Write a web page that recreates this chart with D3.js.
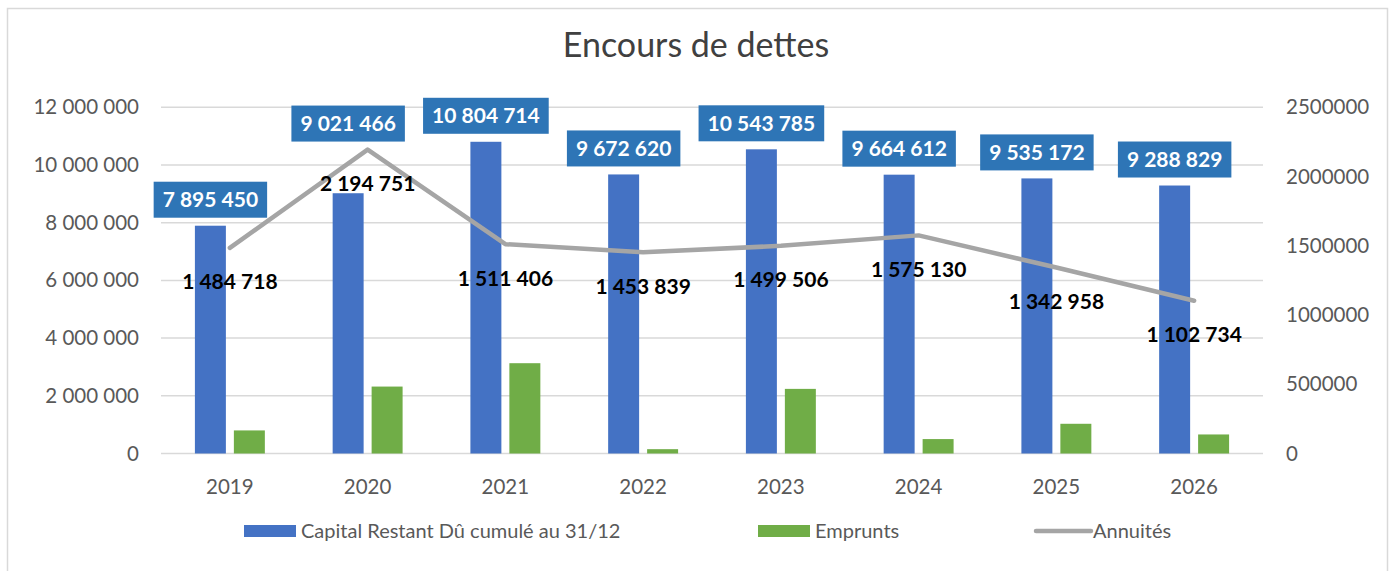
<!DOCTYPE html>
<html>
<head>
<meta charset="utf-8">
<script src="https://cdn.jsdelivr.net/npm/d3@7"></script>
<style>
  html, body { margin: 0; padding: 0; background: #fff; }
  svg { display: block; font-family: Lato, "Open Sans", sans-serif; }
</style>
</head>
<body>
<svg id="chart" width="1392" height="571"></svg>
<script>
// ---- data ----
const years = ["2019", "2020", "2021", "2022", "2023", "2024", "2025", "2026"];
const capital = [7895450, 9021466, 10804714, 9672620, 10543785, 9664612, 9535172, 9288829];
const emprunts = [800000, 2320000, 3130000, 150000, 2240000, 500000, 1030000, 660000];
const annuites = [1484718, 2194751, 1511406, 1453839, 1499506, 1575130, 1342958, 1102734];
const leftTicks = [0, 2000000, 4000000, 6000000, 8000000, 10000000, 12000000];
const rightTicks = [0, 500000, 1000000, 1500000, 2000000, 2500000];
const seriesNames = ["Capital Restant Dû cumulé au 31/12", "Emprunts", "Annuités"];
const title = "Encours de dettes";

// ---- layout ----
const W = 1392, H = 571;
const plot = { left: 161, right: 1263, top: 107.3, bottom: 453.5 };
const colBlue = "#4472C4", colGreen = "#70AD47", colGray = "#A5A5A5", colLabel = "#2E75B6";
const textCol = "#595959", gridCol = "#D9D9D9";

const svg = d3.select("#chart");

// chart border
svg.append("rect").attr("x", 7.5).attr("y", 8.5).attr("width", 1380).attr("height", 600)
  .attr("fill", "#fff").attr("stroke", gridCol).attr("stroke-width", 1.5);

// title
svg.append("text").attr("x", W / 2).attr("y", 57).attr("text-anchor", "middle")
  .attr("font-size", 34).attr("fill", "#404040").text(title);

// scales
const x = d3.scaleBand().domain(years).range([plot.left, plot.right]).padding(0);
const xs = d3.scaleBand().domain(["cap", "emp"]).range([0, x.bandwidth()])
  .paddingInner(0.205).paddingOuter(0.87);
const yL = d3.scaleLinear().domain([0, 12000000]).range([plot.bottom, plot.top]);
const yR = d3.scaleLinear().domain([0, 2500000]).range([plot.bottom, plot.top]);

const fmtSpace = v => d3.format(",")(v).replace(/,/g, " ");

// gridlines
svg.append("g").selectAll("line").data(leftTicks).join("line")
  .attr("x1", plot.left).attr("x2", plot.right)
  .attr("y1", d => yL(d)).attr("y2", d => yL(d))
  .attr("stroke", gridCol).attr("stroke-width", 1.5);

// left axis
const axL = svg.append("g").attr("transform", `translate(${plot.left - 22},0)`)
  .call(d3.axisLeft(yL).tickValues(leftTicks).tickFormat(fmtSpace).tickSize(0).tickPadding(0));
axL.select(".domain").remove();
axL.selectAll("text").attr("font-size", 20.5).attr("fill", textCol).attr("font-family", "Lato");

// right axis
const axR = svg.append("g").attr("transform", `translate(${plot.right + 23},0)`)
  .call(d3.axisRight(yR).tickValues(rightTicks).tickFormat(d3.format("d")).tickSize(0).tickPadding(0));
axR.select(".domain").remove();
axR.selectAll("text").attr("font-size", 20.5).attr("fill", textCol).attr("font-family", "Lato");

// x axis labels
const axB = svg.append("g").attr("transform", `translate(0,${plot.bottom + 33})`)
  .call(d3.axisBottom(x).tickSize(0).tickPadding(0));
axB.select(".domain").remove();
axB.selectAll("text").attr("font-size", 20.5).attr("fill", textCol).attr("font-family", "Lato")
  .attr("dy", "0.35em");

// bars
const rows = years.map((yr, i) => ({ yr, cap: capital[i], emp: emprunts[i], ann: annuites[i] }));
svg.append("g").selectAll("rect").data(rows).join("rect")
  .attr("x", d => x(d.yr) + xs("cap")).attr("width", xs.bandwidth())
  .attr("y", d => yL(d.cap)).attr("height", d => yL(0) - yL(d.cap))
  .attr("fill", colBlue);
svg.append("g").selectAll("rect").data(rows).join("rect")
  .attr("x", d => x(d.yr) + xs("emp")).attr("width", xs.bandwidth())
  .attr("y", d => yL(d.emp)).attr("height", d => yL(0) - yL(d.emp))
  .attr("fill", colGreen);

// line
const cx = d => x(d.yr) + x.bandwidth() / 2;
svg.append("path").datum(rows)
  .attr("d", d3.line().x(cx).y(d => yR(d.ann)))
  .attr("fill", "none").attr("stroke", colGray).attr("stroke-width", 4.5)
  .attr("stroke-linejoin", "round").attr("stroke-linecap", "round");

// line labels (below points)
svg.append("g").selectAll("text").data(rows).join("text")
  .attr("x", cx).attr("y", d => yR(d.ann) + 34).attr("dy", "0.35em")
  .attr("text-anchor", "middle").attr("font-size", 21).attr("font-weight", "bold")
  .attr("fill", "#000").text(d => fmtSpace(d.ann));

// capital labels in boxes
const capCx = d => x(d.yr) + xs("cap") + xs.bandwidth() / 2;
const lg = svg.append("g").selectAll("g").data(rows).join("g");
lg.each(function (d) {
  const g = d3.select(this);
  const bottom = Math.min(yL(d.cap), yR(d.ann)) - 8;
  const boxH = 36;
  const rect = g.append("rect").attr("fill", colLabel);
  const t = g.append("text").attr("x", capCx(d)).attr("y", bottom - boxH / 2).attr("dy", "0.35em")
    .attr("text-anchor", "middle").attr("font-size", 21).attr("font-weight", "bold")
    .attr("fill", "#fff").text(fmtSpace(d.cap));
  const w = t.node().getComputedTextLength() + 18;
  rect.attr("x", capCx(d) - w / 2).attr("y", bottom - boxH).attr("width", w).attr("height", boxH);
});

// legend
const legY = 531;
const leg = svg.append("g").attr("font-size", 20).attr("fill", textCol);
const legItems = [
  { name: seriesNames[0], x: 244, type: "rect", col: colBlue },
  { name: seriesNames[1], x: 758, type: "rect", col: colGreen },
  { name: seriesNames[2], x: 1036, type: "line", col: colGray }
];
legItems.forEach(it => {
  if (it.type === "rect") {
    leg.append("rect").attr("x", it.x).attr("y", legY - 6).attr("width", 52).attr("height", 12).attr("fill", it.col);
  } else {
    leg.append("line").attr("x1", it.x).attr("x2", it.x + 55).attr("y1", legY).attr("y2", legY)
      .attr("stroke", it.col).attr("stroke-width", 4.5).attr("stroke-linecap", "round");
  }
  leg.append("text").attr("x", it.x + 57).attr("y", legY).attr("dy", "0.35em").attr("fill", textCol).text(it.name);
});
</script>
</body>
</html>
